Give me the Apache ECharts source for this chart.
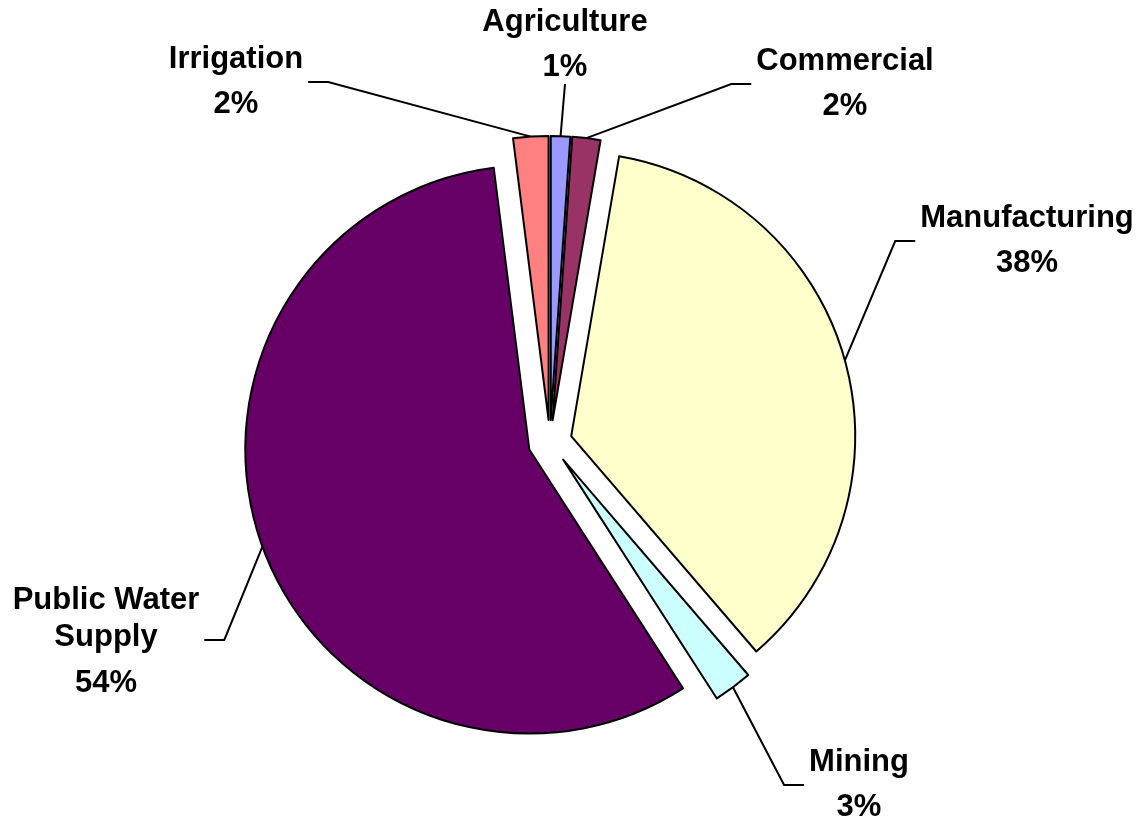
<!DOCTYPE html>
<html>
<head>
<meta charset="utf-8">
<title>Water use by sector</title>
<script src="https://cdn.jsdelivr.net/npm/echarts@6/dist/echarts.min.js"></script>
<style>
  html, body { margin: 0; padding: 0; background: #fff; }
  #chart { width: 1146px; height: 822px; }
</style>
</head>
<body>
<div id="chart"></div>
<script>
// slice sizes as drawn (share of total, %)
var categories = ['Agriculture', 'Commercial', 'Manufacturing', 'Mining', 'Public Water Supply', 'Irrigation'];
var shares = [1.1, 1.6, 36.0, 2.2, 57.1, 2.0];
// percentages as printed on the labels
var printedPct = ['1%', '2%', '38%', '3%', '54%', '2%'];

var colors = ['#9999ff', '#993366', '#ffffcc', '#ccffff', '#660066', '#ff8080'];

// pie geometry (px)
var cx = 550, cy = 442, R = 284, explode = 22;
// label block centres; side = where the leader line comes in
var spots = [
  { x: 565, y: 45, side: 'below' },
  { x: 845, y: 84, side: 'left' },
  { x: 1027, y: 241, side: 'left' },
  { x: 859, y: 785, side: 'left' },
  { x: 106, y: 646, side: 'right', ly: -6 },
  { x: 236, y: 82, side: 'right' }
];

var total = shares.reduce(function (a, b) { return a + b; }, 0);
var mids = [];
var acc = 0;
shares.forEach(function (v) {
  mids.push((acc + v / 2) / total * 2 * Math.PI); // clockwise from 12 o'clock
  acc += v;
});

function wrapName(n) {
  return n.length > 14 ? n.replace(/ (\S+)$/, '\n$1') : n;
}
function labelText(i) {
  var lines = wrapName(categories[i]).split('\n');
  if (lines.length > 1) {
    return lines.map(function (l) { return '{w|' + l + '}'; }).join('\n') + '\n{q|' + printedPct[i] + '}';
  }
  return '{n|' + lines[0] + '}\n{p|' + printedPct[i] + '}';
}

var font = { fontFamily: 'Liberation Sans, Arial, sans-serif', fontWeight: 'bold', fontSize: 31, color: '#000', align: 'center' };
function rs(lh) { return Object.assign({ lineHeight: lh }, font); }

var series = categories.map(function (name, i) {
  // each slice gets its own pie, pulled out along its middle angle
  var ox = cx + explode * Math.sin(mids[i]);
  var oy = cy - explode * Math.cos(mids[i]);
  return {
    type: 'pie',
    center: [ox, oy],
    radius: R,
    startAngle: 90,
    clockwise: true,
    silent: true,
    animation: false,
    avoidLabelOverlap: false,
    emphasis: { disabled: true },
    label: Object.assign({
      formatter: function () { return labelText(i); },
      rich: { n: rs(45), p: rs(45), w: rs(37), q: rs(55) }
    }, font),
    labelLine: { lineStyle: { color: '#000', width: 2 } },
    labelLayout: function (p) {
      if (p.dataIndex !== i) return {};
      var s = spots[i];
      var w = p.labelRect.width, h = p.labelRect.height;
      var a = [ox + R * Math.sin(mids[i]), oy - R * Math.cos(mids[i])];
      var ly = s.y + (s.ly || 0);
      var end, elbow;
      if (s.side === 'below') {
        end = [s.x, s.y + h / 2 + 1];
        elbow = end;
      } else if (s.side === 'left') {
        end = [s.x - w / 2 - 5, ly];
        elbow = [end[0] - 20, ly];
      } else {
        end = [s.x + w / 2 + 5, ly];
        elbow = [end[0] + 20, ly];
      }
      return {
        x: s.x, y: s.y, align: 'center', verticalAlign: 'middle',
        labelLinePoints: [a, elbow, end]
      };
    },
    data: shares.map(function (v, j) {
      var mine = j === i;
      return {
        name: categories[j],
        value: v,
        itemStyle: mine
          ? { color: colors[j], borderColor: '#000', borderWidth: 2 }
          : { color: 'rgba(0,0,0,0)', borderWidth: 0 },
        label: { show: mine },
        labelLine: { show: mine }
      };
    })
  };
});

var chart = echarts.init(document.getElementById('chart'));
chart.setOption({
  backgroundColor: '#fff',
  animation: false,
  tooltip: { show: false },
  series: series
});
</script>
</body>
</html>
